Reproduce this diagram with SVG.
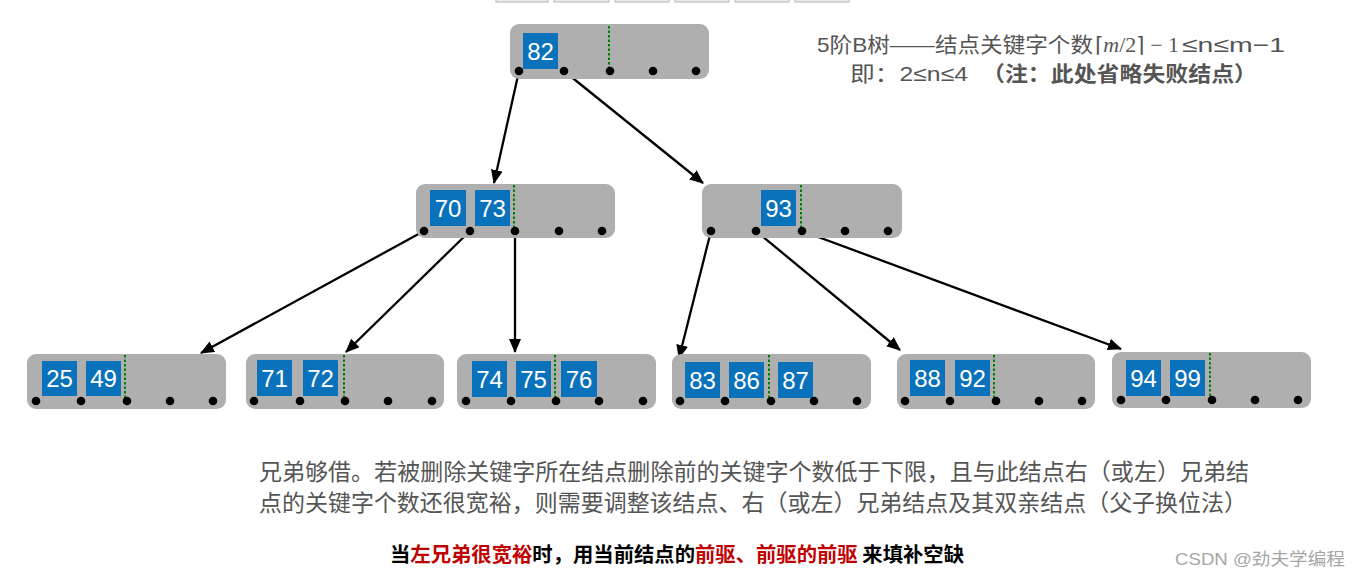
<svg xmlns="http://www.w3.org/2000/svg" width="1362" height="579" viewBox="0 0 1362 579">
<style>
.node{fill:#afafaf;}
.key{fill:#0a72bb;}
.kt{fill:#fff;font-family:"Liberation Sans",Arial,sans-serif;font-size:24px;text-anchor:middle;}
.dot{fill:#000;}
.sep{stroke:#008000;stroke-width:2;stroke-dasharray:2.5,2;}
.edge{stroke:#000;stroke-width:2.3;fill:none;marker-end:url(#ah);}
.cn{font-family:"Liberation Sans","Noto Sans CJK SC",sans-serif;fill:#555;}
.tab{fill:#ececec;stroke:#b5b5b5;stroke-width:1;}
</style>
<defs>
<marker id="ah" markerUnits="userSpaceOnUse" markerWidth="16" markerHeight="14" refX="13" refY="6" orient="auto">
<path d="M0,0 L14,6 L0,12 z" fill="#000"/>
</marker>
</defs>
<rect width="1362" height="579" fill="#fff"/>
<g id="tabs">
<rect class="tab" x="496" y="-4" width="52" height="6"/>
<rect class="tab" x="554" y="-4" width="55" height="6"/>
<rect class="tab" x="615" y="-4" width="54" height="6"/>
<rect class="tab" x="675" y="-4" width="54" height="6"/>
<rect class="tab" x="735" y="-4" width="54" height="6"/>
<rect class="tab" x="795" y="-4" width="54" height="6"/>
</g>
<g id="connectors">
<line class="edge" x1="519" y1="71" x2="494" y2="183"/>
<line class="edge" x1="564" y1="71" x2="703" y2="183"/>
<line class="edge" x1="424" y1="231" x2="201" y2="353"/>
<line class="edge" x1="470" y1="231" x2="346" y2="352"/>
<line class="edge" x1="515" y1="231" x2="515" y2="352"/>
<line class="edge" x1="711" y1="231" x2="679" y2="358"/>
<line class="edge" x1="756" y1="231" x2="900" y2="350"/>
<line class="edge" x1="802" y1="231" x2="1121" y2="349"/>
</g>
<g id="n82">
<rect class="node" x="510" y="24" width="199" height="55" rx="9"/>
<rect class="key" x="523" y="33" width="35" height="36"/><text class="kt" x="540.5" y="60">82</text>
<line class="sep" x1="609" y1="26" x2="609" y2="70"/>
<circle class="dot" cx="519" cy="71" r="4.3"/><circle class="dot" cx="564" cy="71" r="4.3"/><circle class="dot" cx="610" cy="71" r="4.3"/><circle class="dot" cx="653" cy="71" r="4.3"/><circle class="dot" cx="696" cy="71" r="4.3"/>
</g>
<g id="n70_73">
<rect class="node" x="416" y="184" width="199" height="54" rx="9"/>
<rect class="key" x="430" y="190" width="36" height="36"/><text class="kt" x="448" y="217">70</text>
<rect class="key" x="475" y="190" width="35" height="36"/><text class="kt" x="492.5" y="217">73</text>
<line class="sep" x1="514" y1="185" x2="514" y2="230"/>
<circle class="dot" cx="424" cy="231" r="4.3"/><circle class="dot" cx="470" cy="231" r="4.3"/><circle class="dot" cx="515" cy="231" r="4.3"/><circle class="dot" cx="559" cy="231" r="4.3"/><circle class="dot" cx="602" cy="231" r="4.3"/>
</g>
<g id="n93">
<rect class="node" x="702" y="184" width="200" height="54" rx="9"/>
<rect class="key" x="761" y="190" width="35" height="36"/><text class="kt" x="778.5" y="217">93</text>
<line class="sep" x1="801" y1="185" x2="801" y2="230"/>
<circle class="dot" cx="711" cy="231" r="4.3"/><circle class="dot" cx="756" cy="231" r="4.3"/><circle class="dot" cx="802" cy="231" r="4.3"/><circle class="dot" cx="845" cy="231" r="4.3"/><circle class="dot" cx="888" cy="231" r="4.3"/>
</g>
<g id="n25_49">
<rect class="node" x="27" y="354" width="199" height="55" rx="9"/>
<rect class="key" x="42" y="361" width="35" height="35"/><text class="kt" x="59.5" y="387">25</text>
<rect class="key" x="86" y="361" width="35" height="35"/><text class="kt" x="103.5" y="387">49</text>
<line class="sep" x1="125" y1="355" x2="125" y2="400"/>
<circle class="dot" cx="36" cy="401" r="4.3"/><circle class="dot" cx="81" cy="401" r="4.3"/><circle class="dot" cx="127" cy="401" r="4.3"/><circle class="dot" cx="170" cy="401" r="4.3"/><circle class="dot" cx="213" cy="401" r="4.3"/>
</g>
<g id="n71_72">
<rect class="node" x="246" y="354" width="198" height="55" rx="9"/>
<rect class="key" x="257" y="360" width="35" height="36"/><text class="kt" x="274.5" y="387">71</text>
<rect class="key" x="303" y="360" width="35" height="36"/><text class="kt" x="320.5" y="387">72</text>
<line class="sep" x1="344" y1="355" x2="344" y2="400"/>
<circle class="dot" cx="254" cy="401" r="4.3"/><circle class="dot" cx="300" cy="401" r="4.3"/><circle class="dot" cx="345" cy="401" r="4.3"/><circle class="dot" cx="388" cy="401" r="4.3"/><circle class="dot" cx="432" cy="401" r="4.3"/>
</g>
<g id="n74_75_76">
<rect class="node" x="457" y="354" width="199" height="55" rx="9"/>
<rect class="key" x="472" y="361" width="35" height="36"/><text class="kt" x="489.5" y="388">74</text>
<rect class="key" x="516" y="361" width="35" height="36"/><text class="kt" x="533.5" y="388">75</text>
<rect class="key" x="561" y="361" width="36" height="36"/><text class="kt" x="579" y="388">76</text>
<line class="sep" x1="555" y1="355" x2="555" y2="400"/>
<circle class="dot" cx="466" cy="401" r="4.3"/><circle class="dot" cx="511" cy="401" r="4.3"/><circle class="dot" cx="556" cy="401" r="4.3"/><circle class="dot" cx="599" cy="401" r="4.3"/><circle class="dot" cx="643" cy="401" r="4.3"/>
</g>
<g id="n83_86_87">
<rect class="node" x="672" y="354" width="199" height="55" rx="9"/>
<rect class="key" x="685" y="362" width="35" height="36"/><text class="kt" x="702.5" y="389">83</text>
<rect class="key" x="729" y="362" width="35" height="36"/><text class="kt" x="746.5" y="389">86</text>
<rect class="key" x="778" y="362" width="35" height="36"/><text class="kt" x="795.5" y="389">87</text>
<line class="sep" x1="769" y1="355" x2="769" y2="400"/>
<circle class="dot" cx="680" cy="401" r="4.3"/><circle class="dot" cx="725" cy="401" r="4.3"/><circle class="dot" cx="771" cy="401" r="4.3"/><circle class="dot" cx="814" cy="401" r="4.3"/><circle class="dot" cx="857" cy="401" r="4.3"/>
</g>
<g id="n88_92">
<rect class="node" x="897" y="354" width="198" height="55" rx="9"/>
<rect class="key" x="910" y="360" width="35" height="36"/><text class="kt" x="927.5" y="387">88</text>
<rect class="key" x="955" y="360" width="35" height="36"/><text class="kt" x="972.5" y="387">92</text>
<line class="sep" x1="994" y1="355" x2="994" y2="400"/>
<circle class="dot" cx="905" cy="401" r="4.3"/><circle class="dot" cx="950" cy="401" r="4.3"/><circle class="dot" cx="996" cy="401" r="4.3"/><circle class="dot" cx="1039" cy="401" r="4.3"/><circle class="dot" cx="1082" cy="401" r="4.3"/>
</g>
<g id="n94_99">
<rect class="node" x="1112" y="352" width="199" height="56" rx="9"/>
<rect class="key" x="1126" y="360" width="35" height="36"/><text class="kt" x="1143.5" y="387">94</text>
<rect class="key" x="1170" y="360" width="35" height="36"/><text class="kt" x="1187.5" y="387">99</text>
<line class="sep" x1="1210" y1="353" x2="1210" y2="399"/>
<circle class="dot" cx="1121" cy="400" r="4.3"/><circle class="dot" cx="1166" cy="400" r="4.3"/><circle class="dot" cx="1212" cy="400" r="4.3"/><circle class="dot" cx="1255" cy="400" r="4.3"/><circle class="dot" cx="1298" cy="400" r="4.3"/>
</g>
<g id="note">
<text class="cn" x="817" y="52" font-size="21" textLength="276" lengthAdjust="spacingAndGlyphs">5阶B树——结点关键字个数</text>
<text x="1095" y="52" font-size="21" fill="#555" font-family="'Liberation Serif',serif" textLength="84" lengthAdjust="spacingAndGlyphs">⌈<tspan font-style="italic">m</tspan>/2⌉ − 1</text>
<text class="cn" x="1182" y="52" font-size="21" textLength="103" lengthAdjust="spacingAndGlyphs">≤n≤m−1</text>
<text class="cn" x="850" y="81" font-size="21" textLength="118" lengthAdjust="spacingAndGlyphs">即：2≤n≤4</text>
<text class="cn" x="982" y="81" font-size="21" font-weight="bold" textLength="275" lengthAdjust="spacingAndGlyphs">（注：此处省略失败结点）</text>
</g>
<g id="desc">
<text class="cn" x="259" y="480" font-size="23" textLength="990" lengthAdjust="spacingAndGlyphs">兄弟够借。若被删除关键字所在结点删除前的关键字个数低于下限，且与此结点右（或左）兄弟结</text>
<text class="cn" x="259" y="511" font-size="23" textLength="988" lengthAdjust="spacingAndGlyphs">点的关键字个数还很宽裕，则需要调整该结点、右（或左）兄弟结点及其双亲结点（父子换位法）</text>
<text x="390" y="562" font-size="20" font-weight="bold" font-family="'Noto Sans CJK SC','Noto Sans',sans-serif" fill="#000" textLength="574" lengthAdjust="spacingAndGlyphs">当<tspan fill="#c00000">左兄弟很宽裕</tspan>时，用当前结点的<tspan fill="#c00000">前驱、前驱的前驱</tspan> 来填补空缺</text>
</g>
<text x="1175" y="565" font-size="17" fill="#a6a6a6" font-family="'Liberation Sans','Noto Sans CJK SC',sans-serif" textLength="170" lengthAdjust="spacingAndGlyphs">CSDN @劲夫学编程</text>
</svg>
